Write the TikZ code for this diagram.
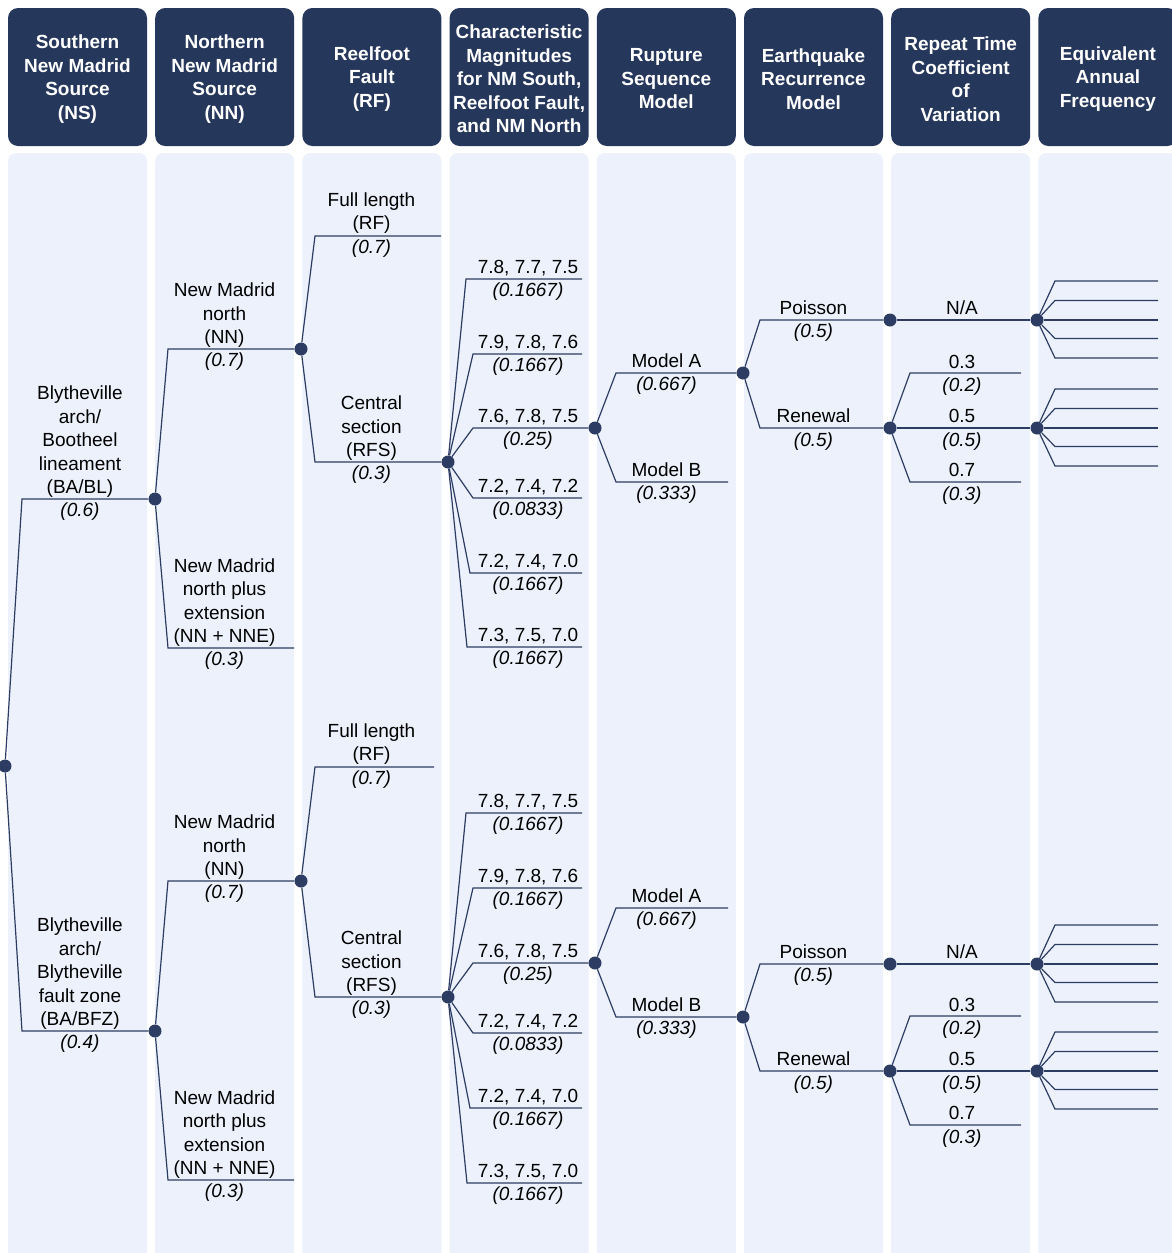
\documentclass[tikz,border=0pt]{standalone}
\usepackage{fontspec}
\setmainfont{Liberation Sans}
\definecolor{navy}{RGB}{38,55,92}
\definecolor{panel}{RGB}{236,241,252}
\definecolor{ln}{RGB}{44,60,98}
\begin{document}
\begin{tikzpicture}[x=1pt,y=-1pt,
  font=\fontsize{19}{23.5}\selectfont,
  hdrbox/.style={fill=navy, rounded corners=10pt},
  hdr/.style={inner sep=0pt, text=white, font=\fontsize{19}{23.5}\selectfont\bfseries, align=center},
  pnl/.style={fill=panel, rounded corners=8pt},
  br/.style={draw=ln, line width=1.2pt},
  dot/.style={circle, fill=ln, minimum size=13pt, inner sep=0pt},
  lab/.style={anchor=south, align=center, inner sep=0pt, text depth=4pt},
  prob/.style={anchor=base, inner sep=0pt, font=\fontsize{19}{23.5}\selectfont\itshape},
]
\useasboundingbox (0,0) rectangle (1172,1253);
\fill[white] (0,0) rectangle (1172,1253);
% panels and header boxes
\foreach \i in {0,...,7}{
  \fill[pnl] ({8+147.2*\i},153) rectangle ++(139,1120);
  \fill[hdrbox] ({8+147.2*\i},8) rectangle ++(139,138);
}
% header texts
\node[hdr] (h1) at (77.5,79) {Southern\\New Madrid\\Source\\(NS)};
\node[hdr] (h2) at (224.7,79) {Northern\\New Madrid\\Source\\(NN)};
\node[hdr] (h3) at (371.9,79) {Reelfoot\\Fault\\(RF)};
\node[hdr] (h4) at (519.1,79) {Characteristic\\Magnitudes\\for NM South,\\Reelfoot Fault,\\and NM North};
\node[hdr] (h5) at (666.3,79) {Rupture\\Sequence\\Model};
\node[hdr] (h6) at (813.5,79) {Earthquake\\Recurrence\\Model};
\node[hdr] (h7) at (960.7,79) {Repeat Time\\Coefficient\\of\\Variation};
\node[hdr] (h8) at (1107.9,79) {Equivalent\\Annual\\Frequency};

% ---------- dots ----------
\node[dot] (r) at (5,766) {};
\node[dot] (t1) at (155,499) {};
\node[dot] (b1) at (155,1031) {};
\node[dot] (t2) at (301,349) {};
\node[dot] (b2) at (301,881) {};
\node[dot] (t3) at (448,462) {};
\node[dot] (b3) at (448,997) {};
\node[dot] (t4) at (595,428) {};
\node[dot] (b4) at (595,963) {};
\node[dot] (t5) at (743,373) {};
\node[dot] (b5) at (743,1017) {};
\node[dot] (t6p) at (890,320) {};
\node[dot] (t6r) at (890,428) {};
\node[dot] (b6p) at (890,964) {};
\node[dot] (b6r) at (890,1071) {};
\node[dot] (t7p) at (1037,320) {};
\node[dot] (t7r) at (1037,428) {};
\node[dot] (b7p) at (1037,964) {};
\node[dot] (b7r) at (1037,1071) {};

% ---------- column 1 ----------
\draw[br] (r) -- (22,499) -- (t1);
\draw[br] (r) -- (22,1031) -- (b1);
\node[lab] (l1a) at (80,498) {Blytheville\\arch/\\Bootheel\\lineament\\(BA/BL)};
\node[prob] (p1a) at (80,516.5) {(0.6)};
\node[lab] (l1b) at (80,1030) {Blytheville\\arch/\\Blytheville\\fault zone\\(BA/BFZ)};
\node[prob] (p1b) at (80,1048.5) {(0.4)};

% ---------- column 2 ----------
\coordinate (t2e) at (294,648);
\coordinate (b2e) at (294,1180);
\draw[br] (t1) -- (168,349) -- (t2);
\draw[br] (t1) -- (168,648) -- (t2e);
\draw[br] (b1) -- (168,881) -- (b2);
\draw[br] (b1) -- (168,1180) -- (b2e);
\node[lab] (l2a) at (224.5,348) {New Madrid\\north\\(NN)};
\node[prob] (p2a) at (224.5,366.5) {(0.7)};
\node[lab] (l2b) at (224.5,647) {New Madrid\\north plus\\extension\\(NN + NNE)};
\node[prob] (p2b) at (224.5,665.5) {(0.3)};
\node[lab] (l2c) at (224.5,880) {New Madrid\\north\\(NN)};
\node[prob] (p2c) at (224.5,898.5) {(0.7)};
\node[lab] (l2d) at (224.5,1179) {New Madrid\\north plus\\extension\\(NN + NNE)};
\node[prob] (p2d) at (224.5,1197.5) {(0.3)};

% ---------- column 3 ----------
\coordinate (t3e) at (441,236);
\coordinate (b3e) at (434,767);
\draw[br] (t2) -- (315,236) -- (t3e);
\draw[br] (t2) -- (315,462) -- (t3);
\draw[br] (b2) -- (315,767) -- (b3e);
\draw[br] (b2) -- (315,997) -- (b3);
\node[lab] (l3a) at (371.5,234) {Full length\\(RF)};
\node[prob] (p3a) at (371.5,253.5) {(0.7)};
\node[lab] (l3b) at (371.5,461) {Central\\section\\(RFS)};
\node[prob] (p3b) at (371.5,479.5) {(0.3)};
\node[lab] (l3c) at (371.5,765) {Full length\\(RF)};
\node[prob] (p3c) at (371.5,784.5) {(0.7)};
\node[lab] (l3d) at (371.5,996) {Central\\section\\(RFS)};
\node[prob] (p3d) at (371.5,1014.5) {(0.3)};

% ---------- column 4 ----------
\foreach \pre/\pnt/\ya/\yb/\yd/\ye/\yf/\ydot in {t/t3/279/354/498/573/647/428, b/b3/813/888/1033/1108/1183/963}{
  \coordinate (\pre4a) at (582,\ya);
  \coordinate (\pre4b) at (582,\yb);
  \coordinate (\pre4d) at (582,\yd);
  \coordinate (\pre4e) at (582,\ye);
  \coordinate (\pre4f) at (582,\yf);
  \draw[br] (\pnt) -- (466,\ya) -- (\pre4a);
  \draw[br] (\pnt) -- (473,\yb) -- (\pre4b);
  \draw[br] (\pnt) -- (473,\ydot) -- (\pre4);
  \draw[br] (\pnt) -- (473,\yd) -- (\pre4d);
  \draw[br] (\pnt) -- (470,\ye) -- (\pre4e);
  \draw[br] (\pnt) -- (467,\yf) -- (\pre4f);
  \node[lab] (\pre l4a) at (528,\ya-1) {7.8, 7.7, 7.5};
  \node[prob] (\pre q4a) at (528,\ya+17.5) {(0.1667)};
  \node[lab] (\pre l4b) at (528,\yb-1) {7.9, 7.8, 7.6};
  \node[prob] (\pre q4b) at (528,\yb+17.5) {(0.1667)};
  \node[lab] (\pre l4c) at (528,\ydot-1) {7.6, 7.8, 7.5};
  \node[prob] (\pre q4c) at (528,\ydot+17.5) {(0.25)};
  \node[lab] (\pre l4d) at (528,\yd-1) {7.2, 7.4, 7.2};
  \node[prob] (\pre q4d) at (528,\yd+17.5) {(0.0833)};
  \node[lab] (\pre l4e) at (528,\ye-1) {7.2, 7.4, 7.0};
  \node[prob] (\pre q4e) at (528,\ye+17.5) {(0.1667)};
  \node[lab] (\pre l4f) at (528,\yf-1) {7.3, 7.5, 7.0};
  \node[prob] (\pre q4f) at (528,\yf+17.5) {(0.1667)};
}

% ---------- column 5 ----------
\coordinate (t5e) at (728,482);
\coordinate (b5e) at (728,908);
\draw[br] (t4) -- (616,373) -- (t5);
\draw[br] (t4) -- (616,482) -- (t5e);
\draw[br] (b4) -- (616,908) -- (b5e);
\draw[br] (b4) -- (616,1017) -- (b5);
\node[lab] (l5a) at (666.5,372) {Model A};
\node[prob] (p5a) at (666.5,390.5) {(0.667)};
\node[lab] (l5b) at (666.5,481) {Model B};
\node[prob] (p5b) at (666.5,499.5) {(0.333)};
\node[lab] (l5c) at (666.5,907) {Model A};
\node[prob] (p5c) at (666.5,925.5) {(0.667)};
\node[lab] (l5d) at (666.5,1016) {Model B};
\node[prob] (p5d) at (666.5,1034.5) {(0.333)};

% ---------- column 6 ----------
\draw[br] (t5) -- (760,320) -- (t6p);
\draw[br] (t5) -- (760,428) -- (t6r);
\draw[br] (b5) -- (760,964) -- (b6p);
\draw[br] (b5) -- (760,1071) -- (b6r);
\node[lab] (l6a) at (813.5,319) {Poisson};
\node[prob] (p6a) at (813.5,337.5) {(0.5)};
\node[lab] (l6b) at (813.5,427) {Renewal};
\node[prob] (p6b) at (813.5,446.5) {(0.5)};
\node[lab] (l6c) at (813.5,963) {Poisson};
\node[prob] (p6c) at (813.5,981.5) {(0.5)};
\node[lab] (l6d) at (813.5,1070) {Renewal};
\node[prob] (p6d) at (813.5,1089.5) {(0.5)};

% ---------- column 7 ----------
\draw[br] (t6p) -- (t7p);
\draw[br] (b6p) -- (b7p);
\node[lab] (l7a) at (962,319) {N/A};
\node[lab] (l7e) at (962,963) {N/A};
\foreach \pre/\yy in {t/428, b/1071}{
  \coordinate (\pre7x) at (1021,\yy-55);
  \coordinate (\pre7z) at (1021,\yy+54);
  \draw[br] (\pre6r) -- (910,\yy-55) -- (\pre7x);
  \draw[br] (\pre6r) -- (\pre7r);
  \draw[br] (\pre6r) -- (910,\yy+54) -- (\pre7z);
  \node[lab] (\pre l7b) at (962,\yy-55) {0.3};
  \node[prob] (\pre q7b) at (962,\yy-36.5) {(0.2)};
  \node[lab] (\pre l7c) at (962,\yy-1) {0.5};
  \node[prob] (\pre q7c) at (962,\yy+18) {(0.5)};
  \node[lab] (\pre l7d) at (962,\yy+53) {0.7};
  \node[prob] (\pre q7d) at (962,\yy+72) {(0.3)};
}

% ---------- column 8 fans ----------
\foreach \dn/\yy in {t7p/320, t7r/428, b7p/964, b7r/1071}{
  \foreach \off [count=\k] in {-39,-19.5,18.5,38}{
    \coordinate (\dn-f\k) at (1158,\yy+\off);
    \draw[br] (\dn) -- (1055,\yy+\off) -- (\dn-f\k);
  }
  \coordinate (\dn-f0) at (1158,\yy);
  \draw[br] (\dn) -- (\dn-f0);
}
\end{tikzpicture}
\end{document}
